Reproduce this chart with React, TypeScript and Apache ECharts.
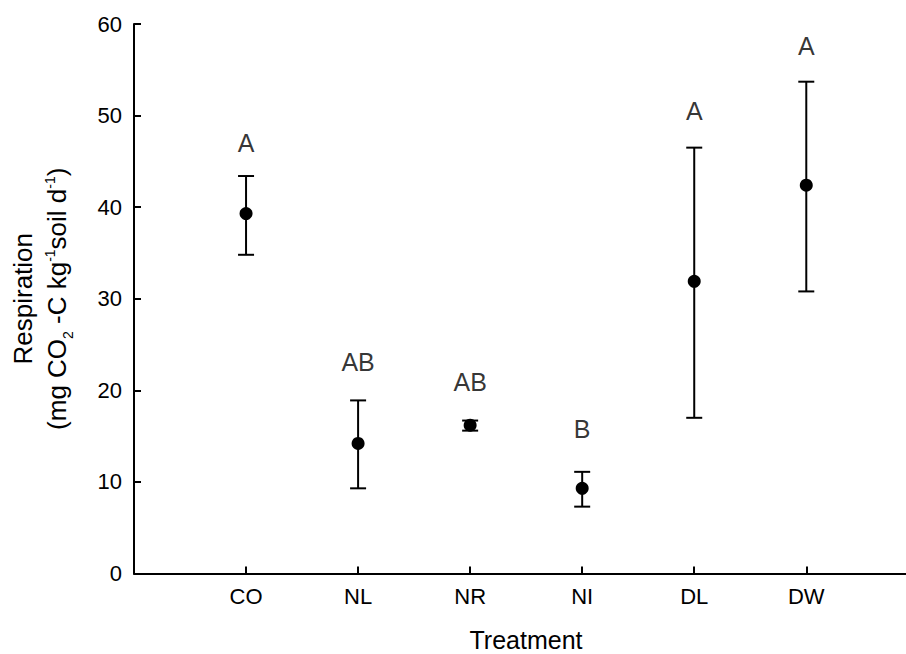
import React, { useEffect, useRef } from "react";
import * as echarts from "echarts";

const categories = ["CO", "NL", "NR", "NI", "DL", "DW"];
const means = [39.3, 14.2, 16.2, 9.3, 31.9, 42.4];
const upper = [43.4, 18.9, 16.7, 11.1, 46.5, 53.7];
const lower = [34.8, 9.3, 15.6, 7.3, 17.0, 30.8];
const letters = ["A", "AB", "AB", "B", "A", "A"];
const letterY = [47.0, 23.1, 20.9, 15.8, 50.5, 57.6];
const yTicks = [0, 10, 20, 30, 40, 50, 60];

const FONT = "Arial, 'Liberation Sans', sans-serif";

export default function App() {
  const ref = useRef<HTMLDivElement>(null);
  useEffect(() => {
    if (!ref.current) return;
    const chart = echarts.init(ref.current, undefined, { renderer: "svg" });
    const pos = categories.map((_, i) => i + 1);
    const option: any = {
      animation: false,
      backgroundColor: "#ffffff",
      textStyle: { fontFamily: FONT, color: "#000" },
      grid: {
        left: 134,
        right: 0,
        top: 24,
        bottom: 80.5,
        containLabel: false,
        outerBoundsMode: "none",
      },
      xAxis: {
        type: "value",
        min: 0,
        max: 6.89,
        interval: 1,
        name: "Treatment",
        nameLocation: "middle",
        nameGap: 55,
        nameTextStyle: {
          fontSize: 25,
          lineHeight: 22,
          color: "#000",
          fontFamily: FONT,
          padding: [0, 0, 0, 12],
        },
        splitLine: { show: false },
        axisLine: { lineStyle: { color: "#000", width: 2 } },
        axisTick: { inside: true, length: 7, lineStyle: { color: "#000", width: 2 } },
        axisLabel: {
          fontSize: 22,
          color: "#000",
          margin: 12,
          showMaxLabel: false,
          formatter: (v: number) => categories[v - 1] ?? "",
        },
      },
      yAxis: {
        type: "value",
        min: yTicks[0],
        max: yTicks[yTicks.length - 1],
        interval: 10,
        name:
          "{a|Respiration}\n{a|(mg CO}{sub|2}{a| -C kg}{sup|-1}{a|soil d}{sup|-1}{a|)}",
        nameLocation: "middle",
        nameRotate: 90,
        nameGap: 60,
        nameTextStyle: {
          color: "#000",
          fontFamily: FONT,
          rich: {
            a: { fontSize: 26, lineHeight: 34, color: "#000", fontFamily: FONT },
            sub: {
              fontSize: 14,
              lineHeight: 14,
              verticalAlign: "top",
              padding: [21, 0, 0, 0],
              color: "#000",
              fontFamily: FONT,
            },
            sup: {
              fontSize: 14,
              lineHeight: 14,
              verticalAlign: "top",
              padding: [3, 0, 0, 0],
              color: "#000",
              fontFamily: FONT,
            },
          },
        },
        splitLine: { show: false },
        axisLine: { show: true, lineStyle: { color: "#000", width: 2 } },
        axisTick: { show: true, inside: true, length: 7, lineStyle: { color: "#000", width: 2 } },
        axisLabel: { fontSize: 22, color: "#000", margin: 12 },
      },
      series: [
        {
          type: "custom",
          data: pos.map((p, i) => [p, lower[i], upper[i]]),
          renderItem: (params: any, api: any) => {
            const x = api.value(0);
            const lo = api.coord([x, api.value(1)]);
            const hi = api.coord([x, api.value(2)]);
            const cap = 8;
            const style = { stroke: "#000", lineWidth: 2 };
            return {
              type: "group",
              children: [
                { type: "line", shape: { x1: lo[0], y1: lo[1], x2: hi[0], y2: hi[1] }, style },
                { type: "line", shape: { x1: hi[0] - cap, y1: hi[1], x2: hi[0] + cap, y2: hi[1] }, style },
                { type: "line", shape: { x1: lo[0] - cap, y1: lo[1], x2: lo[0] + cap, y2: lo[1] }, style },
              ],
            };
          },
          z: 2,
        },
        {
          type: "scatter",
          data: pos.map((p, i) => [p, means[i]]),
          symbol: "circle",
          symbolSize: 13,
          itemStyle: { color: "#000", opacity: 1 },
          z: 3,
        },
        {
          type: "scatter",
          data: pos.map((p, i) => [p, letterY[i]]),
          symbolSize: 0,
          itemStyle: { color: "#000" },
          label: {
            show: true,
            position: "inside",
            fontSize: 25,
            color: "#000",
            textBorderWidth: 0,
            fontFamily: FONT,
            formatter: (p: any) => letters[p.dataIndex],
          },
          z: 4,
        },
      ],
    };
    chart.setOption(option);
    return () => chart.dispose();
  }, []);
  return (
    <div
      ref={ref}
      style={{ position: "fixed", left: 0, top: 0, width: 906, height: 654, background: "#fff" }}
    />
  );
}
